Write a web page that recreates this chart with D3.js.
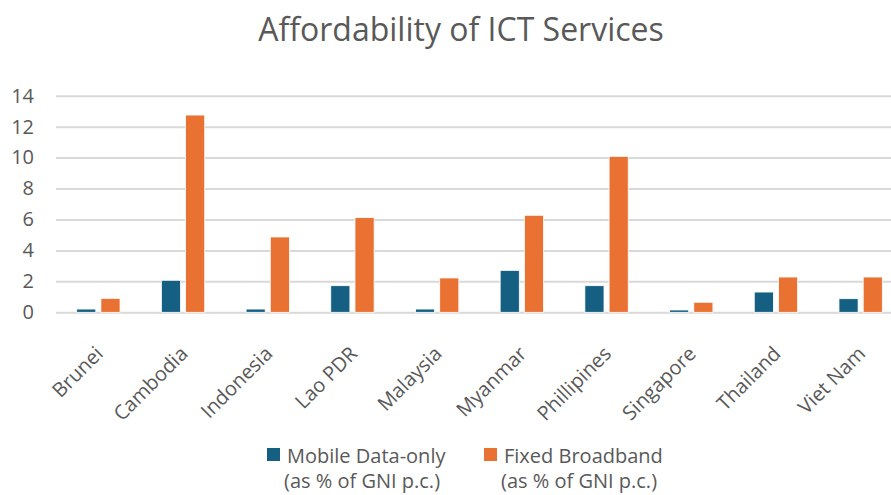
<!DOCTYPE html>
<html>
<head>
<meta charset="utf-8">
<script src="https://cdn.jsdelivr.net/npm/d3@7"></script>
<style>
  html, body { margin: 0; padding: 0; background: #fff; }
  svg { display: block; }
</style>
</head>
<body>
<svg id="chart" width="891" height="495"></svg>
<script>
const categories = ["Brunei", "Cambodia", "Indonesia", "Lao PDR", "Malaysia", "Myanmar", "Phillipines", "Singapore", "Thailand", "Viet Nam"];
const mobileData = [0.21, 2.07, 0.21, 1.72, 0.21, 2.71, 1.72, 0.15, 1.31, 0.88];
const fixedBroadband = [0.9, 12.75, 4.87, 6.12, 2.22, 6.27, 10.08, 0.65, 2.28, 2.28];
const seriesNames = ["Mobile Data-only", "Fixed Broadband"];
const seriesSub = ["(as % of GNI p.c.)", "(as % of GNI p.c.)"];
const seriesColors = ["#156082", "#E97132"];
const yTicks = [0, 2, 4, 6, 8, 10, 12, 14];
const chartTitle = "Affordability of ICT Services";

const svg = d3.select("#chart");
const FONT = "'Open Sans', 'Liberation Sans', sans-serif";
const textColor = "#595959";

const x0 = d3.scaleBand().domain(categories).range([56, 903]).paddingInner(0.488).paddingOuter(0.244);
const x1 = d3.scaleBand().domain(seriesNames).range([0, x0.bandwidth()]).paddingInner(0.21).paddingOuter(0);
const y = d3.scaleLinear().domain([0, 14]).range([312.3, 95.7]);

// Title
svg.append("text")
  .attr("x", 461).attr("y", 41)
  .attr("text-anchor", "middle")
  .attr("font-family", FONT).attr("font-size", 32)
  .attr("fill", textColor)
  .text(chartTitle);

// Gridlines + y labels
const yAxis = d3.axisLeft(y).tickValues(yTicks).tickSize(-(903 - 56)).tickPadding(22);
const gy = svg.append("g").attr("transform", "translate(56,0)").call(yAxis);
gy.select(".domain").remove();
gy.selectAll(".tick line").attr("stroke", "#d9d9d9").attr("stroke-width", 2);
gy.selectAll(".tick text")
  .attr("font-family", FONT).attr("font-size", 20).attr("fill", textColor);

// Bars
const data = categories.map((c, i) => ({ cat: c, vals: [mobileData[i], fixedBroadband[i]] }));
const groups = svg.append("g").selectAll("g").data(data).join("g")
  .attr("transform", d => `translate(${x0(d.cat)},0)`);
groups.selectAll("rect")
  .data(d => d.vals.map((v, j) => ({ s: seriesNames[j], v, j })))
  .join("rect")
  .attr("x", d => x1(d.s))
  .attr("width", x1.bandwidth())
  .attr("y", d => y(d.v))
  .attr("height", d => y(0) - y(d.v))
  .attr("fill", d => seriesColors[d.j])
  .attr("stroke", "#fff").attr("stroke-width", 0.8);

// Category labels
const xAxis = d3.axisBottom(x0).tickSize(0).tickPadding(0);
const gx = svg.append("g").attr("transform", "translate(0,313)").call(xAxis);
gx.select(".domain").remove();
gx.selectAll(".tick text")
  .attr("font-family", FONT).attr("font-size", 20).attr("fill", textColor)
  .attr("text-anchor", "end")
  .attr("dy", 0)
  .attr("transform", "translate(6,42) rotate(-45)");

// Legend
const legendX = [267, 484];
const leg = svg.append("g");
seriesNames.forEach((s, i) => {
  leg.append("rect").attr("x", legendX[i]).attr("y", 448).attr("width", 13).attr("height", 13).attr("fill", seriesColors[i]);
  leg.append("text").attr("x", legendX[i] + 20).attr("y", 463)
    .attr("font-family", FONT).attr("font-size", 20).attr("fill", textColor).text(s);
  leg.append("text").attr("x", legendX[i] + 17).attr("y", 488)
    .attr("font-family", FONT).attr("font-size", 20).attr("fill", textColor).text(seriesSub[i]);
});
</script>
</body>
</html>
